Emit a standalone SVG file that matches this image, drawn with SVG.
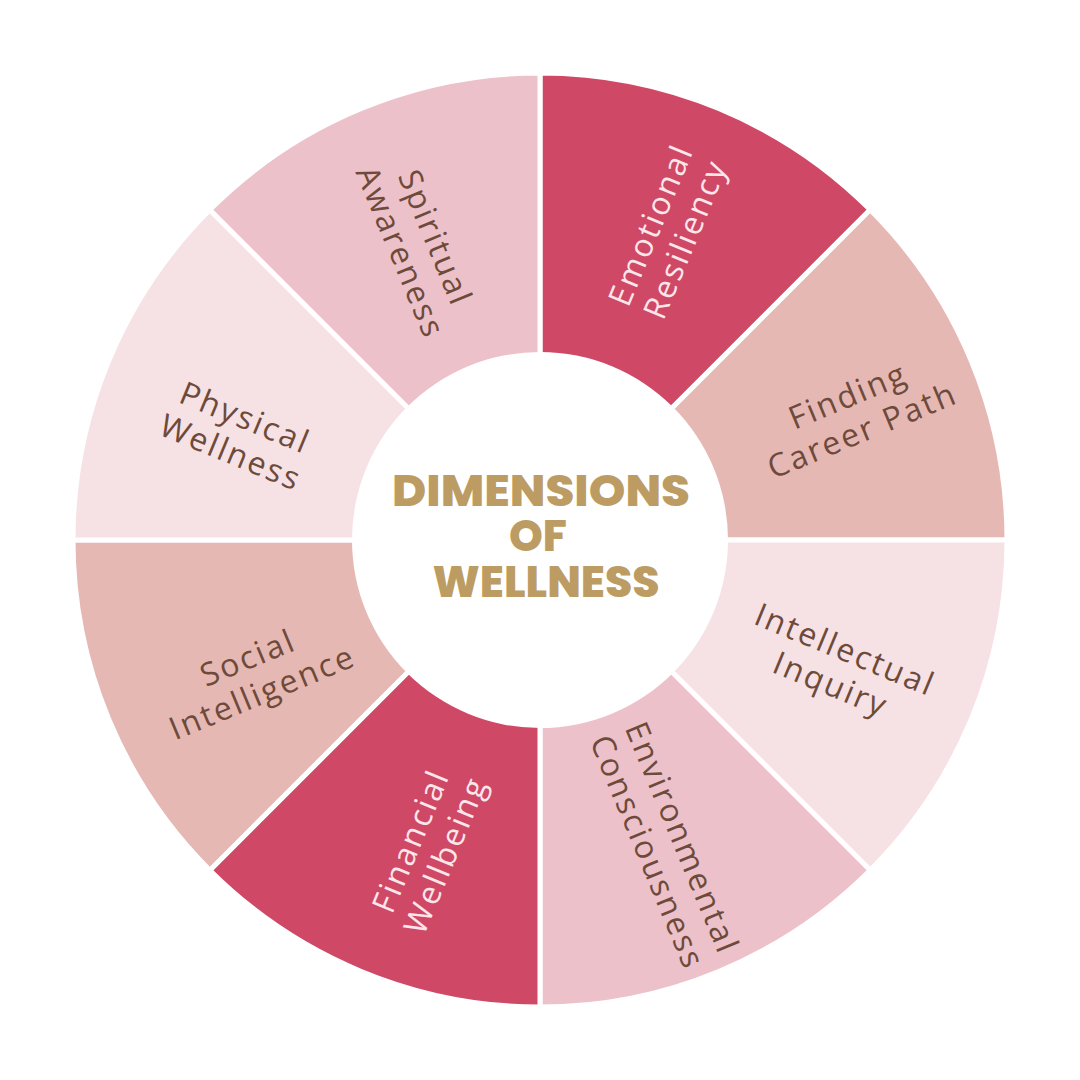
<svg xmlns="http://www.w3.org/2000/svg" width="1080" height="1080" viewBox="0 0 1080 1080">
<style>
.seg{stroke:#ffffff;stroke-width:5;stroke-linejoin:miter}
.red{fill:#CF4866}
.rose{fill:#E6B8B4}
.pink{fill:#ECC1CA}
.pale{fill:#F6E1E4}
.lbl{font-family:"Open Sans","DejaVu Sans",sans-serif;font-size:32px;letter-spacing:2.3px;text-anchor:middle;fill:#6E4A3A}
.lbl.w{fill:#FBE6EA}
.title{font-family:"Poppins","Open Sans","DejaVu Sans",sans-serif;font-weight:800;font-size:43px;text-anchor:middle;fill:#BC9C62}
</style>
<rect width="1080" height="1080" fill="#ffffff"/>
<g id="segments">
<g id="emotional"><path class="seg red" d="M540 540 L540 73 A467 467 0 0 1 870.2 209.8 Z"/><text class="lbl w" transform="translate(668,232) rotate(-67.5)"><tspan x="0" y="-7.5">Emotional</tspan><tspan x="0" y="30">Resiliency</tspan></text></g>
<g id="career"><path class="seg rose" d="M540 540 L870.2 209.8 A467 467 0 0 1 1007 540 Z"/><text class="lbl" transform="translate(855,413) rotate(-22.5)"><tspan x="0" y="-7.5">Finding</tspan><tspan x="0" y="30">Career Path</tspan></text></g>
<g id="intellectual"><path class="seg pale" d="M540 540 L1007 540 A467 467 0 0 1 870.2 870.2 Z"/><text class="lbl" transform="translate(838,667) rotate(22.5)"><tspan x="0" y="-7.5">Intellectual</tspan><tspan x="0" y="30">Inquiry</tspan></text></g>
<g id="environmental"><path class="seg pink" d="M540 540 L870.2 870.2 A467 467 0 0 1 540 1007 Z"/><text class="lbl" transform="translate(665,845) rotate(67.5)"><tspan x="0" y="-7.5">Environmental</tspan><tspan x="0" y="30">Consciousness</tspan></text></g>
<g id="financial"><path class="seg red" d="M540 540 L540 1007 A467 467 0 0 1 209.8 870.2 Z"/><text class="lbl w" transform="translate(428,848) rotate(-67.5)"><tspan x="0" y="-7.5">Financial</tspan><tspan x="0" y="30">Wellbeing</tspan></text></g>
<g id="social"><path class="seg rose" d="M540 540 L209.8 870.2 A467 467 0 0 1 73 540 Z"/><text class="lbl" transform="translate(255,675) rotate(-22.5)"><tspan x="0" y="-7.5">Social</tspan><tspan x="0" y="30">Intelligence</tspan></text></g>
<g id="physical"><path class="seg pale" d="M540 540 L73 540 A467 467 0 0 1 209.8 209.8 Z"/><text class="lbl" transform="translate(238,435) rotate(22.5)"><tspan x="0" y="-7.5">Physical</tspan><tspan x="0" y="30">Wellness</tspan></text></g>
<g id="spiritual"><path class="seg pink" d="M540 540 L209.8 209.8 A467 467 0 0 1 540 73 Z"/><text class="lbl" transform="translate(418,245) rotate(67.5)"><tspan x="0" y="-7.5">Spiritual</tspan><tspan x="0" y="30">Awareness</tspan></text></g>
</g>
<g id="center">
<circle cx="540" cy="540" r="188" fill="#ffffff"/>
<text class="title"><tspan x="541" y="506" textLength="298" lengthAdjust="spacingAndGlyphs">DIMENSIONS</tspan><tspan x="538" y="551">OF</tspan><tspan x="546" y="597" textLength="227" lengthAdjust="spacingAndGlyphs">WELLNESS</tspan></text>
</g>
</svg>
